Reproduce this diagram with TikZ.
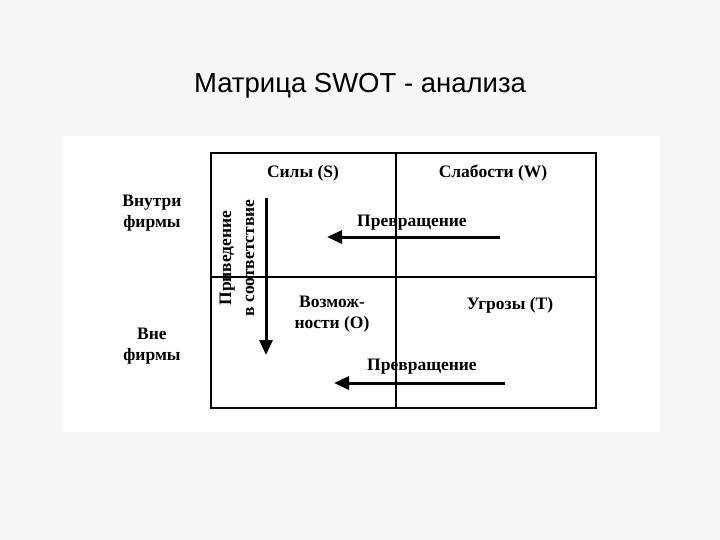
\documentclass[tikz,border=0pt]{standalone}
\usepackage{fontspec}
\setmainfont{Liberation Serif}
\newfontfamily\titlefont{Liberation Sans}
\usetikzlibrary{arrows.meta}
\begin{document}
\begin{tikzpicture}[x=1pt,y=-1pt,
  lbl/.style={font=\fontsize{17.5}{19}\selectfont\bfseries, align=center, inner sep=1pt},
  grid/.style={line width=2.2pt},
  arr/.style={line width=3pt, -{Triangle[length=15pt,width=13pt]}}]
\useasboundingbox (0,0) rectangle (720,540);
\fill[gray!6] (0,0) rectangle (720,540);
\fill[white] (62,136) rectangle (660,432);
\node[font=\titlefont\fontsize{27.5}{30}\selectfont] (title) at (360,86) {Матрица SWOT - анализа};
\draw[grid] (211,153) rectangle (596,408);
\coordinate (vt) at (396,153); \coordinate (vb) at (396,408);
\coordinate (hl) at (211,277); \coordinate (hr) at (596,277);
\draw[line width=1.6pt] (vt) -- (vb);
\draw[line width=1.6pt] (hl) -- (hr);
\node[lbl] (s) at (303,173) {Силы (S)};
\node[lbl] (w) at (493,173) {Слабости (W)};
\node[lbl, font=\fontsize{17.5}{21}\selectfont\bfseries] (in) at (152,213) {Внутри\\фирмы};
\node[lbl, font=\fontsize{17.5}{21}\selectfont\bfseries] (out) at (152,346) {Вне\\фирмы};
\node[lbl, font=\fontsize{17.5}{21}\selectfont\bfseries] (o) at (332,314) {Возмож-\\ности (O)};
\node[lbl] (t) at (510,305) {Угрозы (T)};
\node[lbl, rotate=90, font=\fontsize{17.5}{23}\selectfont\bfseries] (fit) at (237,258) {Приведение\\в соответствие};
\coordinate (a1) at (266,198); \coordinate (a2) at (266,355);
\draw[arr] (a1) -- (a2);
\node[lbl] (p1) at (412,223) {Превращение};
\coordinate (b1) at (500,237); \coordinate (b2) at (327,237);
\draw[arr] (b1) -- (b2);
\node[lbl] (p2) at (422,367) {Превращение};
\coordinate (c1) at (505,383); \coordinate (c2) at (334,383);
\draw[arr] (c1) -- (c2);
\end{tikzpicture}
\end{document}
